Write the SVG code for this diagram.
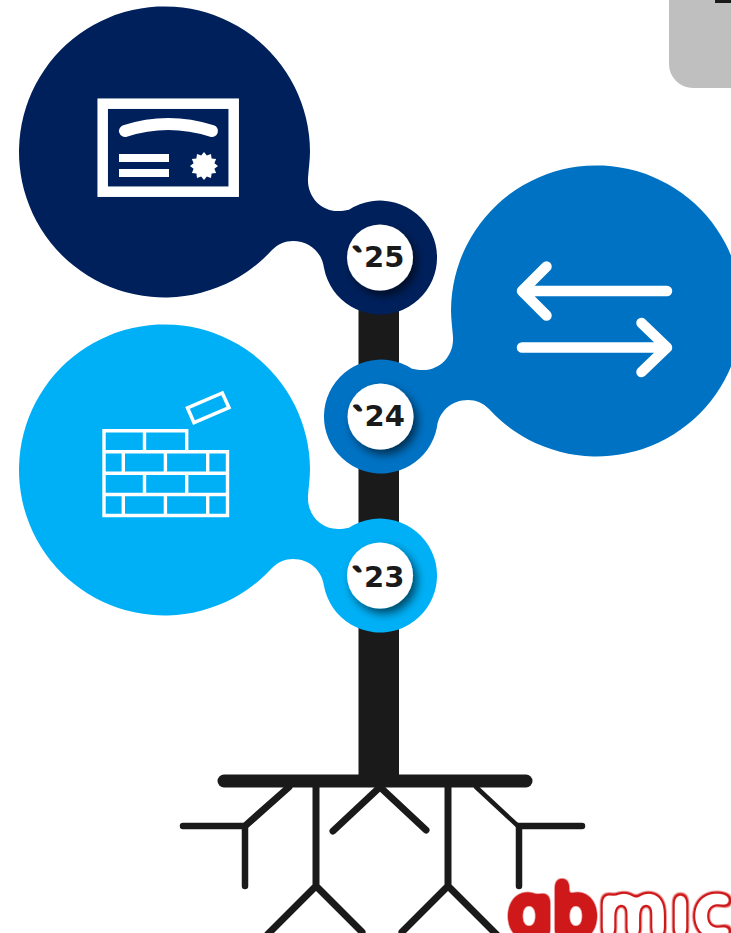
<svg xmlns="http://www.w3.org/2000/svg" width="731" height="933" viewBox="0 0 731 933">
  <style>
    .root{fill:none;stroke:#1a1a1a;stroke-linecap:round;stroke-linejoin:miter}
    .ico{fill:none;stroke:#fff;stroke-linecap:round;stroke-linejoin:round}
    .wall{fill:none;stroke:#fff;stroke-width:3.4;stroke-linejoin:miter}
    .yr{font-family:"DejaVu Sans",sans-serif;font-weight:700;font-size:29px;fill:#1a1a1a}
    .gr{font-size:22px;stroke:#1a1a1a;stroke-width:3;stroke-linejoin:round}
    .dot{fill:#fff;filter:url(#sh)}
    .lg{font-family:"DejaVu Sans",sans-serif;font-size:70px}
  </style>
  <defs>
    <path id="blob" d="M349 209.700C345 210.500 342 211 338 211C320 211 307 196 308 178C308.500 170 310 160 310 151.500A145.500 145.500 0 1 0 272 250C278 244 285 241 293 241C309 241 322 252 324 268A57 57 0 1 0 349 209.700Z"/>
    <filter id="sh" x="-40%" y="-40%" width="190%" height="190%">
      <feDropShadow dx="4" dy="5" stdDeviation="5" flood-color="#000" flood-opacity=".6"/>
    </filter>
    <filter id="solid" x="-10%" y="-10%" width="120%" height="120%" color-interpolation-filters="sRGB">
      <feGaussianBlur in="SourceAlpha" stdDeviation="3" result="b"/>
      <feComponentTransfer in="b" result="o"><feFuncA type="linear" slope="12" intercept="-0.6"/></feComponentTransfer>
      <feFlood flood-color="#ce1819"/>
      <feComposite in2="o" operator="in"/>
    </filter>
    <filter id="tube" x="-10%" y="-10%" width="120%" height="120%" color-interpolation-filters="sRGB">
      <feGaussianBlur in="SourceAlpha" stdDeviation="3.500" result="b"/>
      <feComponentTransfer in="b" result="o"><feFuncA type="linear" slope="12" intercept="-0.4"/></feComponentTransfer>
      <feComponentTransfer in="b" result="i"><feFuncA type="linear" slope="12" intercept="-2.3"/></feComponentTransfer>
      <feFlood flood-color="#ce1819"/>
      <feComposite in2="o" operator="in" result="r"/>
      <feFlood flood-color="#fff"/>
      <feComposite in2="i" operator="in" result="w"/>
      <feMerge><feMergeNode in="r"/><feMergeNode in="w"/></feMerge>
    </filter>
  </defs>

  <rect id="tab" x="669" y="-40" width="100" height="128" rx="24" fill="#bfbfbf"/>
  <rect id="tab-mark" x="715" y="0" width="16" height="3" fill="#1a1a1a"/>

  <g id="connectors">
    <rect x="358.500" y="300" width="40.500" height="482" fill="#1a1a1a"/>
    <path class="root" stroke-width="13" d="M224 781H526"/>
    <path class="root" stroke-width="7" d="M289 787L245 826M316 785V886M316 886L268 934M316 886L362 932M380 787L333 831M380 787L426 830M448 785V886M448 886L402 932M448 886L497 935"/>
    <path class="root" stroke-width="4.500" d="M476 787L518 826"/>
    <path class="root" stroke-width="6.500" d="M183 826H245V886M582 826H519V886"/>
  </g>

  <g id="node-25">
    <use href="#blob" fill="#00205c"/>
    <circle class="dot" cx="380" cy="257.500" r="33"/>
    <text class="yr"><tspan class="gr" x="353" y="264">`</tspan><tspan x="364" y="267">25</tspan></text>
    <rect x="102.700" y="103.700" width="131" height="88" fill="none" stroke="#fff" stroke-width="10.500"/>
    <path class="ico" stroke-width="12" d="M125 131Q168 117 212 131"/>
    <rect x="119" y="154" width="50" height="8" fill="#fff"/>
    <rect x="119" y="169" width="50" height="8" fill="#fff"/>
    <polygon transform="translate(204,166)" fill="#fff" points="14,0 10.400,2.800 12.100,7 7.600,7.600 7,12.100 2.800,10.400 0,14 -2.800,10.400 -7,12.100 -7.600,7.600 -12.100,7 -10.400,2.800 -14,0 -10.400,-2.800 -12.100,-7 -7.600,-7.600 -7,-12.100 -2.800,-10.400 0,-14 2.800,-10.400 7,-12.100 7.600,-7.600 12.100,-7 10.400,-2.800"/>
  </g>

  <g id="node-24">
    <use href="#blob" fill="#0072c4" transform="translate(761,159) scale(-1,1)"/>
    <circle class="dot" cx="380.500" cy="416.500" r="33"/>
    <text class="yr"><tspan class="gr" x="353.500" y="423">`</tspan><tspan x="364.500" y="426">24</tspan></text>
    <path class="ico" stroke-width="10.500" d="M667 291H522M546.500 266.500L522 291L546.500 315.500M522 347.500H667M641.500 323L667 347.500L641.500 372"/>
  </g>

  <g id="node-23">
    <use href="#blob" fill="#00b0f6" transform="translate(0,318)"/>
    <circle class="dot" cx="380" cy="575.500" r="33"/>
    <text class="yr"><tspan class="gr" x="353" y="583.500">`</tspan><tspan x="364" y="586.500">23</tspan></text>
    <path class="wall" d="M104 515.500V430.700H186.700V451.700H227.500V515.500ZM104 451.700H186.700M104 473.300H227.500M104 494.500H227.500M144.500 430.700V451.700M123.300 451.700V473.300M165.400 451.700V473.300M207.700 451.700V473.300M144.500 473.300V494.500M186.700 473.300V494.500M123.300 494.500V515.500M165.400 494.500V515.500M207.700 494.500V515.500"/>
    <polygon points="187.500,407.800 222.300,393 229,407.700 194,422.700" fill="none" stroke="#fff" stroke-width="3.500"/>
  </g>

  <g id="logo">
    <text class="lg" x="508" y="934.500" filter="url(#solid)">ɑb</text>
    <text class="lg" x="599" y="935" letter-spacing="3.500" filter="url(#tube)">mıc</text>
  </g>
</svg>
